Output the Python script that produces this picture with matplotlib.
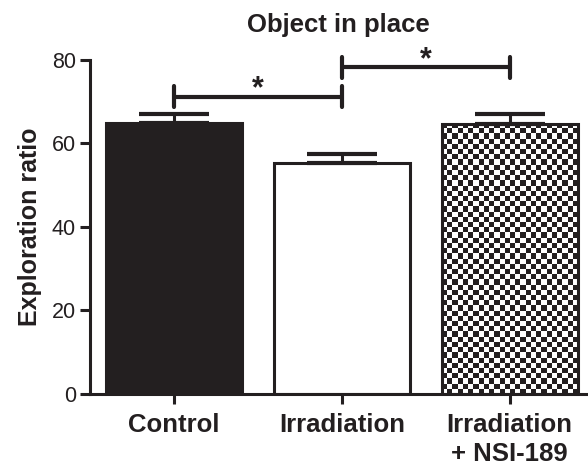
import numpy as np
import matplotlib.pyplot as plt
from matplotlib.colors import ListedColormap

# datos
grupos = ["Control", "Irradiation", "Irradiation\n+ NSI-189"]
medias = [65.0, 55.2, 64.7]
errores = [2.0, 2.2, 2.4]
# (grupo izq, grupo der, altura)
comparaciones = [(0, 1, 71.2), (1, 2, 78.2)]
marcas_y = [0, 20, 40, 60, 80]

TINTA = "#231f20"
plt.rcParams["font.family"] = ["Liberation Sans", "DejaVu Sans"]

fig = plt.figure(figsize=(5.88, 4.65), dpi=100)
ax = fig.add_axes([0.153, 0.153, 0.845, 0.718])

x = np.arange(len(grupos))
barras = ax.bar(x, medias, width=0.81, color=[TINTA, "white", "none"],
                edgecolor=TINTA, linewidth=2.2, zorder=2)
ax.errorbar(x, medias, yerr=[np.zeros(len(errores)), errores], fmt="none",
            ecolor=TINTA, elinewidth=2.2, capsize=25, capthick=3, zorder=3)

ax.set_xlim(-0.5, 2.46)
ax.set_ylim(0, 80)

# relleno de tablero de ajedrez para la tercera barra
b = barras[2]
x0, w, h = b.get_x(), b.get_width(), b.get_height()
p0 = ax.transData.transform((x0, 0))
p1 = ax.transData.transform((x0 + w, h))
nx = int(round((p1[0] - p0[0]) / 5.2))
ny = int(round((p1[1] - p0[1]) / 5.2))
tablero = np.add.outer(np.arange(ny), np.arange(nx)) % 2
im = ax.imshow(tablero, cmap=ListedColormap(["white", TINTA]),
               extent=(x0, x0 + w, 0, h), origin="lower",
               interpolation="nearest", aspect="auto", zorder=1.9)
im.set_clip_path(b)
ax.set_xlim(-0.5, 2.46)
ax.set_ylim(0, 80)

# corchetes de significancia
for izq, der, alt in comparaciones:
    kw = dict(color=TINTA, lw=3, solid_capstyle="round", clip_on=False, zorder=4)
    ax.plot([izq, der], [alt, alt], **kw)
    ax.plot([izq, izq], [alt - 2.5, alt + 2.5], **kw)
    ax.plot([der, der], [alt - 2.5, alt + 2.5], **kw)
    ax.text((izq + der) / 2, alt - 1.8, "*", ha="center", va="bottom",
            fontsize=22, fontweight="bold", color=TINTA)

for lado in ["top", "right"]:
    ax.spines[lado].set_visible(False)
for lado in ["left", "bottom"]:
    ax.spines[lado].set_linewidth(2.2)
    ax.spines[lado].set_color(TINTA)

ax.set_yticks(marcas_y)
ax.set_xticks(x)
ax.set_xticklabels(grupos, fontsize=18.5, fontweight="bold", color=TINTA,
                   linespacing=1.25)
ax.tick_params(axis="both", direction="out", length=7.2, width=2.2, color=TINTA)
ax.tick_params(axis="y", labelsize=15.5, labelcolor=TINTA, pad=3)
ax.tick_params(axis="x", pad=6.5)

ax.set_ylabel("Exploration ratio", fontsize=18, fontweight="bold", color=TINTA, labelpad=7)
ax.set_title("Object in place", fontsize=18.5, fontweight="bold", color=TINTA, pad=20)

fig.savefig("out.png", dpi=100)
